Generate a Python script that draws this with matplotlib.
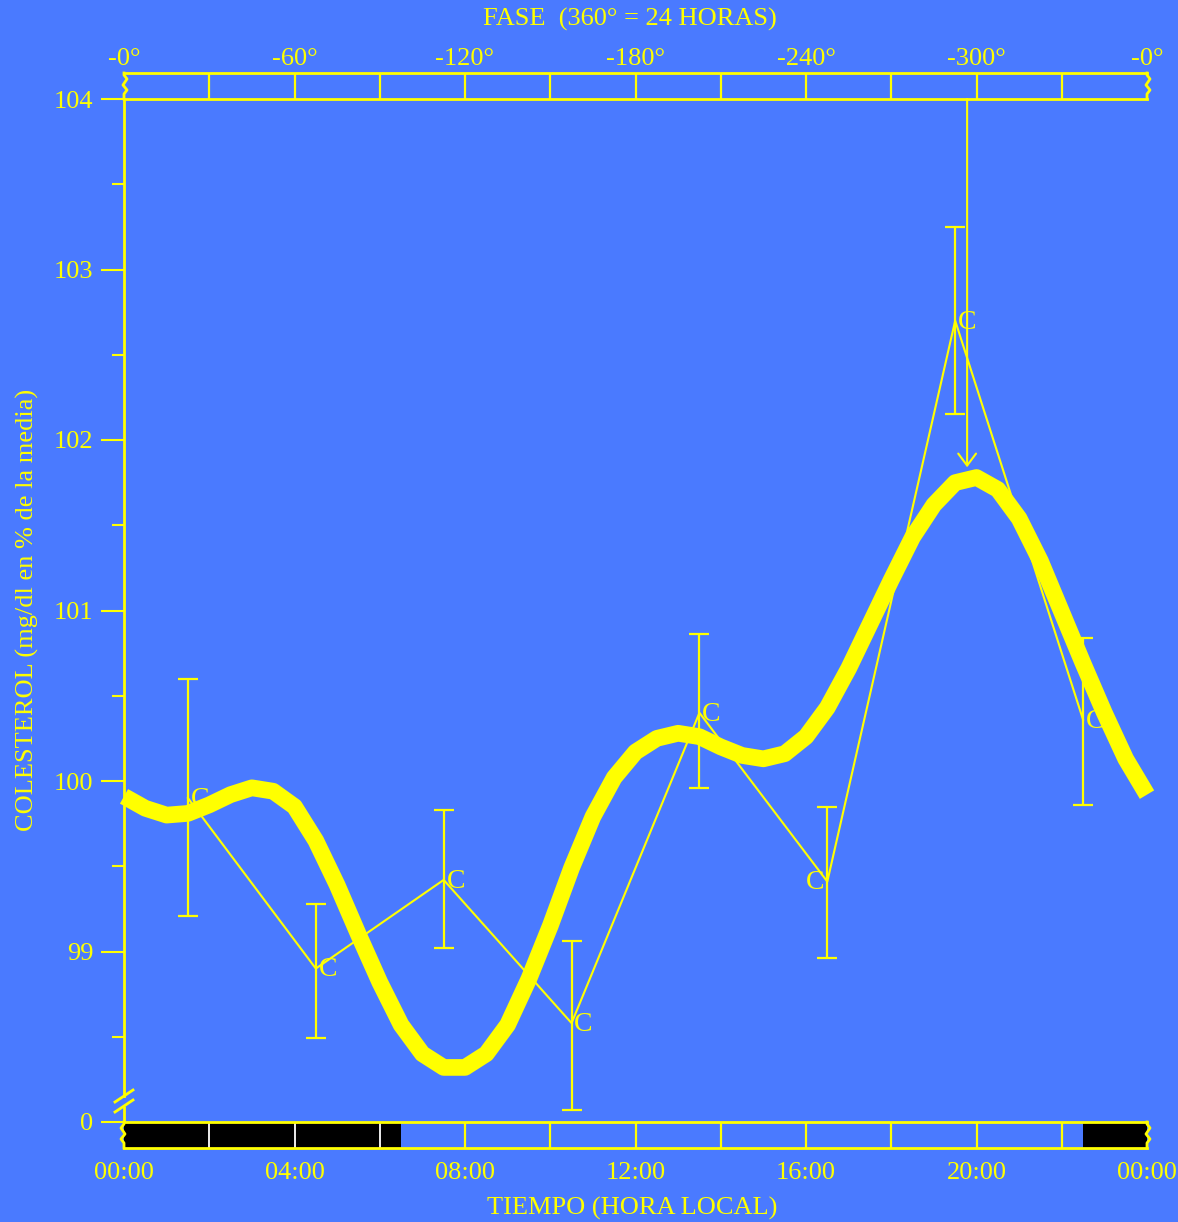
import numpy as np
import matplotlib.pyplot as plt

plt.rcParams['font.family'] = ['Liberation Serif', 'DejaVu Serif']

BLUE = '#4a7aff'
YEL = '#ffff00'

# fitted curve every half hour
hours = np.arange(0, 24.5, 0.5)
curve = [99.91, 99.84, 99.80, 99.81, 99.86, 99.92, 99.96, 99.94, 99.85, 99.65,
         99.39, 99.10, 98.82, 98.57, 98.40, 98.32, 98.32, 98.40, 98.57, 98.84,
         99.15, 99.49, 99.79, 100.02, 100.17, 100.25, 100.28, 100.26, 100.20, 100.15,
         100.13, 100.16, 100.26, 100.43, 100.66, 100.92, 101.18, 101.43, 101.62, 101.75,
         101.78, 101.71, 101.54, 101.29, 100.99, 100.69, 100.40, 100.13, 99.92]

# sample means with error bars
times = [1.5, 4.5, 7.5, 10.5, 13.5, 16.5, 19.5, 22.5]
means = [99.90, 98.90, 99.42, 98.58, 100.40, 99.41, 102.70, 100.36]
hi = [100.60, 99.28, 99.83, 99.06, 100.86, 99.85, 103.25, 100.84]
lo = [99.21, 98.49, 99.02, 98.07, 99.96, 98.96, 102.15, 99.86]
label_side = ['r', 'r', 'r', 'r', 'r', 'l', 'r', 'r']

acro_h = 19.78      # acrophase (hours)
acro_v = 101.84

night = [(0, 6.5), (22.5, 24)]
time_ticks = [0, 4, 8, 12, 16, 20, 24]
time_labels = ['00:00', '04:00', '08:00', '12:00', '16:00', '20:00', '00:00']
phase_labels = ['-0°', '-60°', '-120°', '-180°', '-240°', '-300°', '-0°']

FS = 19
W, H = 1178, 1222
px_h = 24 / 1023      # one pixel in hours
px_v = 6 / 1023       # one pixel in value units

fig = plt.figure(figsize=(W / 100, H / 100), dpi=100, facecolor=BLUE)


def box(top, bottom):
    return [124 / W, 1 - bottom / H, 1023 / W, (bottom - top) / H]


def edge_break(a, x, sign):
    # little zigzag on band ends, offsets in pixels from the top
    dx = np.array([0, 0, 3, -1, 3, 0, 0]) * sign
    dy = np.array([0, 2, 6, 12, 17, 21, 26])
    a.plot(x + dx * px_h, 1 - dy / 26, color=YEL, lw=2, clip_on=False, zorder=5)


# ---------------- main panel
ax = fig.add_axes(box(99, 1122))
ax.set_facecolor('none')
ax.set_xlim(0, 24)
ax.set_ylim(98, 104)
for s in ['top', 'right', 'bottom']:
    ax.spines[s].set_visible(False)
ax.spines['left'].set_color(YEL)
ax.spines['left'].set_linewidth(2)
ax.spines['left'].set_bounds(98.1525, 104)
ax.set_xticks([])
ax.set_yticks([99, 100, 101, 102, 103, 104])
ax.set_yticks(np.arange(98.5, 104, 1), minor=True)
ax.tick_params(axis='y', which='major', length=16.5, width=1.5, color=YEL,
               labelcolor=YEL, labelsize=FS, pad=5.5)
ax.tick_params(axis='y', which='minor', length=8.6, width=1.5, color=YEL)

# axis break
ax.plot([0, 0], [98, 98.0938], color=YEL, lw=2, clip_on=False, solid_capstyle='butt')
for yc in (98.1525, 98.0938):
    ax.plot([-9 * px_h, 9 * px_h], [yc - 6 * px_v, yc + 6 * px_v], color=YEL, lw=2, clip_on=False)

ax.plot(hours, curve, color=YEL, lw=12, solid_capstyle='butt', solid_joinstyle='round',
        clip_on=False, zorder=3)
ax.plot(times, means, color=YEL, lw=1.5, zorder=4)
ax.errorbar(times, means, yerr=[np.subtract(means, lo), np.subtract(hi, means)], fmt='none',
            ecolor=YEL, elinewidth=1.6, capsize=7, capthick=1.6, zorder=4)
for t, m, s in zip(times, means, label_side):
    ax.annotate('C', (t, m), xytext=(2 if s == 'r' else -2, -1), textcoords='offset points',
                ha='left' if s == 'r' else 'right', va='center', fontsize=20, color=YEL, zorder=6)

ax.annotate('', xy=(acro_h, acro_v), xytext=(acro_h, 104),
            arrowprops=dict(arrowstyle='->,head_length=0.43,head_width=0.32', color=YEL, lw=1.5,
                            shrinkA=0, shrinkB=0, mutation_scale=20), zorder=6)

# ---------------- bottom band (light / dark)
bx = fig.add_axes(box(1122, 1148))
bx.set_facecolor('none')
bx.set_xlim(0, 24)
bx.set_ylim(0, 1)
for s in bx.spines.values():
    s.set_visible(False)
for a, b in night:
    bx.axvspan(a, b, color='black', lw=0)
for yy in (0, 1):
    bx.plot([0, 24], [yy, yy], color=YEL, lw=2, clip_on=False, zorder=4)
for h in range(2, 24, 2):
    dark = any(a < h < b for a, b in night)
    bx.plot([h, h], [0, 1], color='white' if dark else YEL, lw=1.3 if dark else 1.6, zorder=3)
edge_break(bx, 0, -1)
edge_break(bx, 24, 1)
bx.set_xticks(time_ticks, time_labels)
bx.tick_params(axis='x', length=0, pad=10, labelsize=FS, labelcolor=YEL)
bx.set_yticks([1], ['0'])
bx.tick_params(axis='y', length=16.5, width=1.5, color=YEL, pad=5.5, labelsize=FS, labelcolor=YEL)

# ---------------- top band (phase)
tx = fig.add_axes(box(73, 99))
tx.set_facecolor('none')
tx.set_xlim(0, 24)
tx.set_ylim(0, 1)
for s in tx.spines.values():
    s.set_visible(False)
for yy in (0, 1):
    tx.plot([0, 24], [yy, yy], color=YEL, lw=2, clip_on=False, zorder=4)
for h in range(2, 24, 2):
    tx.plot([h, h], [0, 1], color=YEL, lw=1.6)
edge_break(tx, 0, 1)
edge_break(tx, 24, 1)
tx.set_yticks([])
tx.set_xticks(time_ticks, phase_labels)
tx.tick_params(axis='x', top=True, bottom=False, labeltop=True, labelbottom=False,
               length=0, pad=2, labelsize=FS, labelcolor=YEL)

fig.text(630 / W, 1 - 19 / H, 'FASE  (360° = 24 HORAS)', ha='center', va='center', fontsize=FS, color=YEL)
fig.text(632 / W, 1 - 1208 / H, 'TIEMPO (HORA LOCAL)', ha='center', va='center', fontsize=FS, color=YEL)
fig.text(27 / W, 1 - 610 / H, 'COLESTEROL (mg/dl en % de la media)', rotation=90,
         ha='center', va='center', fontsize=FS, color=YEL)

fig.savefig('out.png', dpi=100, facecolor=BLUE)
